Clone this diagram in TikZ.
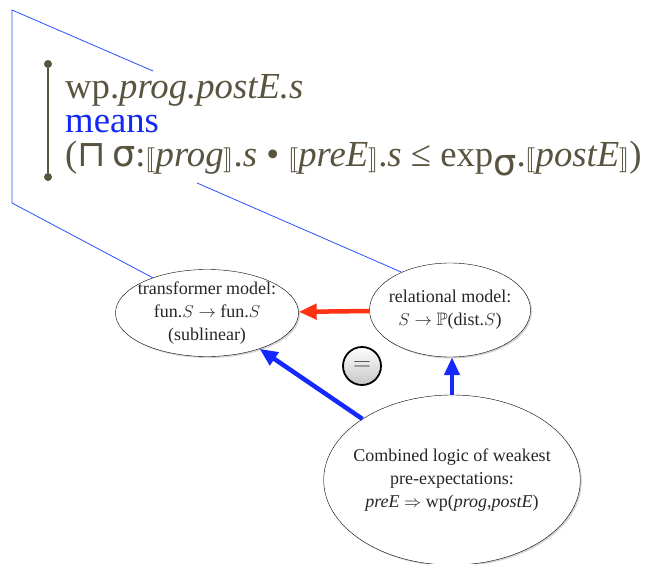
\documentclass[tikz,border=0pt]{standalone}
\usepackage{amssymb}
\usepackage{stmaryrd}
\usepackage{fontspec}
\setmainfont{Liberation Serif}
\newfontfamily\sansgreek{DejaVu Sans}
\usetikzlibrary{arrows.meta, shapes.geometric, shadows}
\definecolor{olivetext}{RGB}{88, 84, 64}
\definecolor{meansblue}{RGB}{20, 40, 245}
\definecolor{lineblue}{RGB}{40, 80, 255}
\definecolor{arrowred}{RGB}{255, 50, 20}
\definecolor{arrowblue}{RGB}{20, 40, 255}

\begin{document}
\begin{tikzpicture}[x=1pt, y=-1pt,
    model/.style={ellipse, draw, fill=white, align=center, inner sep=-8pt, text=black!85,
      font={\fontsize{18}{23}\selectfont},
      drop shadow={shadow xshift=1.5pt, shadow yshift=-1.5pt, opacity=0.35}},
    formula/.style={anchor=north west, inner sep=0pt, align=left, text=olivetext,
      font={\fontsize{36.7}{34}\selectfont}},
    bardot/.style={circle, fill=olivetext, inner sep=0pt, minimum size=8pt},
    callout/.style={lineblue, line width=0.8pt},
    fat/.style={line width=4.5pt, -{Triangle[length=18pt, width=15pt]}},
    eqsign/.style={circle, draw, line width=1.8pt, minimum size=38pt, inner sep=0pt,
      top color=white, bottom color=gray!45, text=black!75,
      font={\fontsize{24}{26}\selectfont}}]
  \useasboundingbox (0,0) rectangle (648,564);
  % formula with its bar
  \node[formula] (wpdef) at (65,74)
    {wp.\textit{prog.postE.s}\\
     \textcolor{meansblue}{means}\\
     ({\sansgreek ⊓\,σ}:$\llbracket$\textit{prog}$\rrbracket$.\textit{s} •
     $\llbracket$\textit{preE}$\rrbracket$.\textit{s} ≤
     exp\raisebox{-9pt}{\sansgreek σ}.$\llbracket$\textit{postE}$\rrbracket$)};
  \node[bardot] (bartop) at (48,64) {};
  \node[bardot] (barbot) at (48,177) {};
  \draw[olivetext, line width=2.5pt] (bartop) -- (barbot);
  % models
  \node[model, minimum width=183pt, minimum height=87pt] (trans) at (207,313)
    {transformer model:\\ fun.$S\rightarrow$ fun.$S$\\ (sublinear)};
  \node[model, minimum width=161pt, minimum height=94pt] (rel) at (450,310)
    {relational model:\\ $S\rightarrow\mathbb{P}$(dist.$S$)};
  \node[model, minimum width=250pt, minimum height=170pt] (comb) at (452,480)
    {Combined logic of weakest\\ pre-expectations:\\
     \textit{preE} $\Rightarrow$ wp(\textit{prog},\textit{postE})};
  \node[eqsign] (eq) at (362,366) {$=$};
  % callout lines
  \coordinate (ctop) at (153,71);
  \coordinate (ccorner) at (12,10);
  \coordinate (cbottom) at (12,203);
  \coordinate (cprog) at (197,183);
  \draw[callout] (ctop) -- (ccorner) -- (cbottom) -- (trans.147);
  \draw[callout] (cprog) -- (rel.142);
  % arrows
  \draw[fat, arrowred] (rel) -- (trans);
  \draw[fat, arrowblue] (comb) -- (trans);
  \draw[fat, arrowblue] (comb.north) -- (comb.north |- rel.south);
\end{tikzpicture}
\end{document}
